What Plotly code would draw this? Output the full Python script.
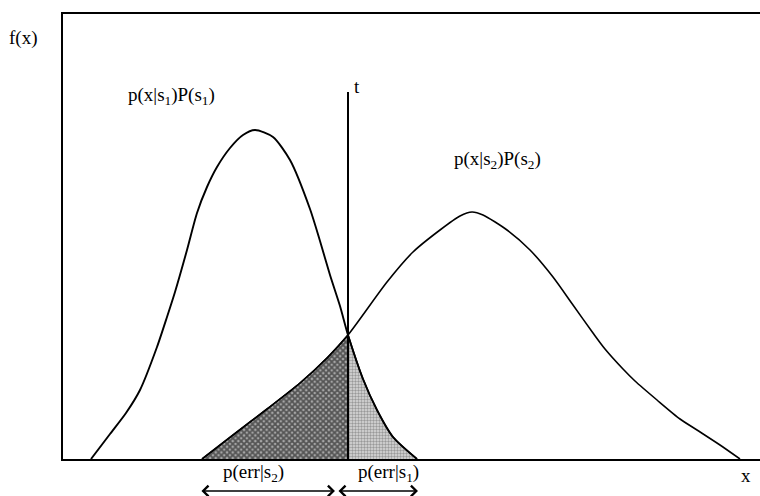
import plotly.graph_objects as go

# Curve samples (x, f(x)) in plot units
c1_x = [28, 47, 63, 77, 94, 104, 112, 124, 134, 144, 154, 167, 180, 192, 210, 227, 247, 257, 267, 277, 285, 300, 314, 330, 354]
c1_y = [0, 25, 46, 69, 112, 142, 167, 209, 246, 272, 292, 311, 324, 329, 322, 299, 250, 218, 184, 153, 124, 80, 49, 22, 0]

c2_x = [139, 170, 204, 237, 264, 285, 324, 350, 377, 397, 409, 420, 444, 467, 490, 510, 530, 542, 560, 572, 594, 617, 634, 657, 677]
c2_y = [0, 24, 50, 76, 101, 124, 177, 207, 229, 243, 247, 244, 229, 209, 182, 154, 126, 110, 90, 78, 59, 40, 29, 14, 0]

threshold_x = 285
threshold_top = 367

x_range = [0, 697]
y_range = [0, 445]

fig = go.Figure()

# shaded error regions
e2_x = [x for x in c2_x if x <= threshold_x]
e2_y = [y for x, y in zip(c2_x, c2_y) if x <= threshold_x]
e1_x = [x for x in c1_x if x >= threshold_x]
e1_y = [y for x, y in zip(c1_x, c1_y) if x >= threshold_x]

fig.add_trace(go.Scatter(
    x=e2_x, y=e2_y, mode="lines", line=dict(color="black", width=1.5, shape="spline", smoothing=0.7),
    fill="tozeroy", fillcolor="rgba(255,255,255,0)",
    fillpattern=dict(shape="x", size=4, solidity=0.7, fgcolor="black", bgcolor="#a8a8a8"),
    hoverinfo="skip", showlegend=False))
fig.add_trace(go.Scatter(
    x=e1_x, y=e1_y, mode="lines", line=dict(color="black", width=1.5, shape="spline", smoothing=0.7),
    fill="tozeroy", fillcolor="rgba(255,255,255,0)",
    fillpattern=dict(shape=".", size=3, solidity=0.5, fgcolor="#555555", bgcolor="#dcdcdc"),
    hoverinfo="skip", showlegend=False))

# curves
fig.add_trace(go.Scatter(x=c1_x, y=c1_y, mode="lines",
                         line=dict(color="black", width=1.9, shape="spline", smoothing=0.7),
                         showlegend=False))
fig.add_trace(go.Scatter(x=c2_x, y=c2_y, mode="lines",
                         line=dict(color="black", width=1.6, shape="spline", smoothing=0.7),
                         showlegend=False))

# threshold line
fig.add_trace(go.Scatter(x=[threshold_x, threshold_x], y=[0, threshold_top], mode="lines",
                         line=dict(color="black", width=2), showlegend=False))

font = dict(family="Liberation Serif, Times New Roman, serif", size=19, color="black")

# labels inside the plot (data coordinates)
inner_labels = [
    (108, 363, "p(x|s<sub>1</sub>)P(s<sub>1</sub>)"),
    (434, 299, "p(x|s<sub>2</sub>)P(s<sub>2</sub>)"),
    (294, 373, "t"),
]
for x, y, t in inner_labels:
    fig.add_annotation(x=x, y=y, text=t, showarrow=False, font=font,
                       xanchor="center", yanchor="middle", xref="x", yref="y")

# labels outside the plot (paper coordinates)
outer_labels = [
    (-0.0574, 0.946, "f(x)"),
    (0.274, -0.0315, "p(err|s<sub>2</sub>)"),
    (0.4677, -0.0315, "p(err|s<sub>1</sub>)"),
    (0.98, -0.036, "x"),
]
for x, y, t in outer_labels:
    fig.add_annotation(x=x, y=y, text=t, showarrow=False, font=font,
                       xanchor="center", yanchor="middle", xref="paper", yref="paper")

# double-headed arrows under the axis: (head x in paper, tail offset in px)
arrow_heads = [0.3902, 0.5093]
arrow_lengths = [-135, -81]
arrow_y = -0.0719
for hx, L in zip(arrow_heads, arrow_lengths):
    fig.add_annotation(x=hx, y=arrow_y, ax=L, ay=0, xref="paper", yref="paper",
                       text="", showarrow=True, arrowhead=4, startarrowhead=4,
                       arrowside="end+start", arrowsize=1.6, startarrowsize=1.6,
                       arrowwidth=1.3, arrowcolor="black")

fig.update_layout(
    width=760, height=496,
    margin=dict(l=63, r=0, t=14, b=37),
    paper_bgcolor="white", plot_bgcolor="white",
    xaxis=dict(range=x_range, showgrid=False, zeroline=False, showticklabels=False, ticks="",
               showline=True, linecolor="black", linewidth=2, mirror=True),
    yaxis=dict(range=y_range, showgrid=False, zeroline=False, showticklabels=False, ticks="",
               showline=True, linecolor="black", linewidth=2, mirror=False),
)

fig.write_html("out.html", config={"displayModeBar": False},
               post_script="document.body.style.margin='0px';")
